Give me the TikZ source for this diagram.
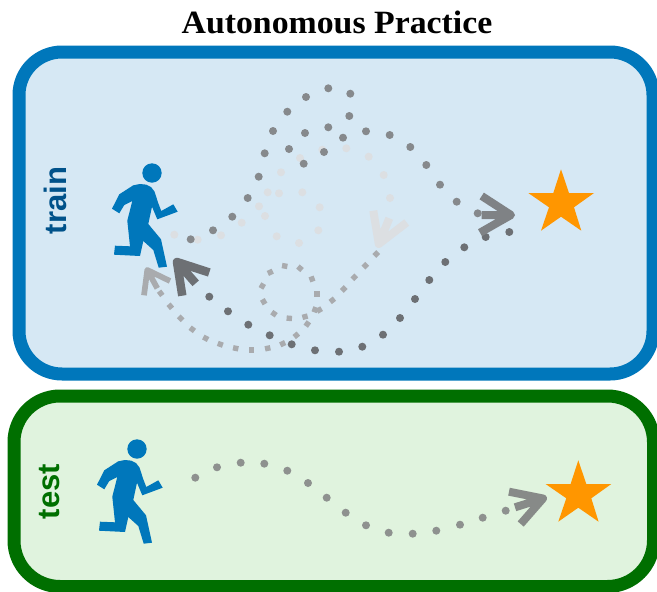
\documentclass[tikz,border=0pt]{standalone}
\usepackage{fontspec}
\setmainfont{Liberation Serif}
\newfontfamily\titlefont[FakeStretch=1.04]{Liberation Serif}
\newfontfamily\labelfont{Liberation Sans}
\definecolor{trainblue}{HTML}{0077BB}
\definecolor{trainfill}{HTML}{D6E8F4}
\definecolor{trainlabel}{HTML}{00528A}
\definecolor{testgreen}{HTML}{006F00}
\definecolor{testfill}{HTML}{E0F3DE}
\definecolor{goal}{HTML}{FF9600}
\definecolor{pathtop}{HTML}{86898C}
\definecolor{pathbot}{HTML}{6D7074}
\definecolor{pathfaint}{HTML}{DCDFE2}
\definecolor{pathsq}{HTML}{A9ABAE}
\definecolor{pathtest}{HTML}{8E918F}
\tikzset{
  panel/.style={line width=13pt,rounded corners=43pt},
  sidelabel/.style={font=\labelfont\bfseries\fontsize{31}{31}\selectfont,rotate=90,inner sep=0pt},
  arrowhead/.style={line width=#1,line join=round,line cap=butt},
  runner/.pic={
    \fill[trainblue] (152,173) circle (9.7);
    \fill[trainblue] (119.3,194.3)--(133.3,185.3)--(140,184)--(146,184.6)--(151,187)--(154.5,191.5)--(158.3,203.3)--(161.3,211)--(173.3,204.3)--(177.7,211.7)--(157.3,219.3)--(152,206.7)--(148.3,224)--(161,239.3)--(167,266.7)--(158.7,267.7)--(153.3,250)--(143.3,241)--(140,256)--(114,254.7)--(115,245.7)--(130,246.3)--(127.3,220.7)--(132.3,201)--(124.3,205)--(119.3,213.3)--(112,208.7)--cycle;
  },
  goalstar/.pic={
    \fill[goal] (561,169.3)--(569,193)--(594,193)--(574,207.3)--(581.3,230.7)--(561,216.7)--(541,230.7)--(549,207.3)--(528.3,193)--(553.3,193)--cycle;
  }
}
\begin{document}
\begin{tikzpicture}[x=1pt,y=-1pt]
\useasboundingbox (0,0) rectangle (657,592);
\fill[white] (0,0) rectangle (657,592);
\node[font=\titlefont\bfseries\fontsize{32.5}{32.5}\selectfont,inner sep=0pt,anchor=base] (title) at (337,33) {Autonomous Practice};
\draw[panel,draw=trainblue,fill=trainfill] (19,52) rectangle (653,374);
\draw[panel,draw=testgreen,fill=testfill,rounded corners=46pt] (14,396) rectangle (653.5,586.5);
\node[sidelabel,text=trainlabel] (trainlabel) at (55.5,200.5) {train};
\node[sidelabel,text=testgreen] (testlabel) at (49.3,491.5) {test};
\pic at (0,0) {runner};
\pic at (-15,276) {runner};
\pic at (0,0) {goalstar};
\pic at (17.3,291) {goalstar};
% faint path
\foreach \x/\y in {174.3/234.7,197.7/239.7,221/235.3,241.7/222.7,259/206.3,267.7/192.3,281/172.3,300/158,322.3/149.7,346.3/148.3,368.7/156.7,383.7/175,390/198,279/193.3,265/216,276.7/236.3,299/243,318.3/230.3,319.7/207.3,302.3/192.3}
  \fill[pathfaint] (\x,\y) circle (4);
% square path
\foreach \x/\y/\a in {160.7/293.3/53,170.3/306.3/50,180.7/318.3/45,192.3/329.3/37,205.7/338.3/28,220.3/344.3/20,235.7/348.3/12,251.7/350/0,267.7/348.3/-12,282.7/343.7/-25,296.3/335.3/-40,307.3/324/-55,315/309.7/-70,317/294/-90,312/279/-110,300/268.3/-140,284.7/266/-170,270.3/272.3/-205,262.3/286/-240,263.7/301.7/60,274/313.7/35,289.3/318.3/5,305/316.7/-15,319.3/310/-30,332.3/300.3/-38,343.7/289/-45,354.3/277.3/-45,365.3/265.7/-45,376.3/254/-45}
  \fill[pathsq,shift={(\x,\y)},rotate=-\a] (-2.7,-2.7) rectangle (2.7,2.7);
% upper dark path
\foreach \x/\y in {190.7/239.3,213/230.3,232.3/216.7,247.7/198,258.7/176.7,264.7/153.3,273/131,287.3/111.7,306/97,328.3/88.3,350.3/93.7,349.3/116,343/137.7,324/152,303.7/163.7,289/149,305/133,328.3/127.3,366/131.3,389.7/135,410.3/147,426.3/165,440/184.7,456.7/201.7,477.7/213.3}
  \fill[pathtop] (\x,\y) circle (4);
% lower dark path
\foreach \x/\y in {209.3/296.7,228/311.3,248.3/324.7,269.7/335.3,291.7/344.3,315/350.3,339/351.7,362.3/346.7,383/334.7,400/318,415/299,429.3/280,445.3/262,464.3/247.3,485.7/237,509.3/232}
  \fill[pathbot] (\x,\y) circle (4);
% test path
\foreach \x/\y in {195.3/477.7,217/467.3,240.7/462.7,264.3/463.7,287.3/470.7,308/483,326.7/497.7,345.7/512.7,366/525.3,388.7/532.7,412.7/533.7,436.3/530.7,460/524.7,482.7/517.7,505.7/510.7}
  \fill[pathtest] (\x,\y) circle (4);
% arrow heads
\draw[arrowhead=8pt,draw=pathfaint] (373.3,210.7)--(378.8,244)--(406.7,222.5) (389.3,218.3)--(378.8,244);
\draw[arrowhead=5.7pt,draw=pathsq] (170,281)--(147.3,270)--(144,295.3) (157.3,288.3)--(147.3,270);
\draw[arrowhead=8.5pt,draw=pathbot] (209.3,272.5)--(177,262)--(182.3,295.7) (195.7,283.3)--(177,262);
\draw[arrowhead=8pt,draw=pathtop!95!black] (481.7,196)--(511,215)--(480,232.7) (481.7,215)--(511,215);
\draw[arrowhead=8pt,draw=pathtest!95!black] (509,491.7)--(543,498.5)--(520.7,524) (515,507.3)--(543,498.5);
\end{tikzpicture}
\end{document}
